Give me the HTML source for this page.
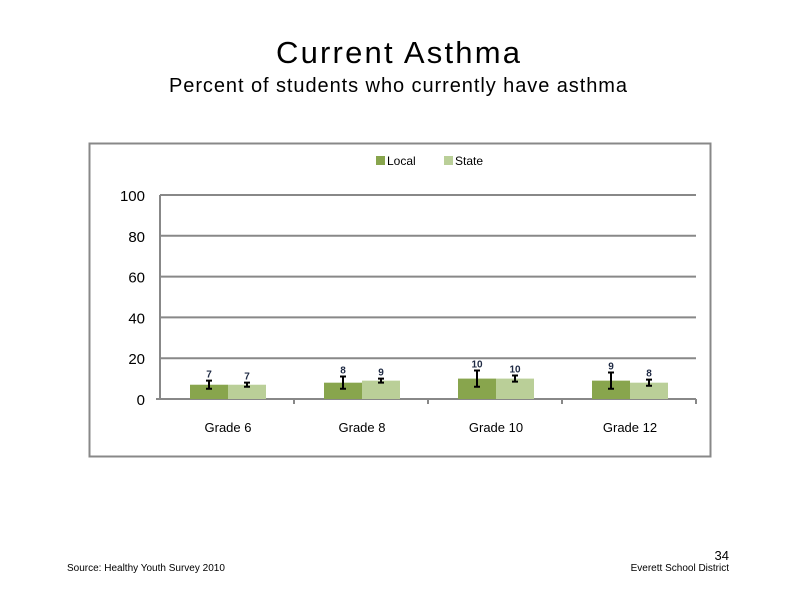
<!DOCTYPE html>
<html><head><meta charset="utf-8"><style>
body{margin:0;width:800px;height:600px;background:#fff;font-family:"Liberation Sans",sans-serif;overflow:hidden}
</style></head><body>
<svg width="800" height="600" font-family="Liberation Sans, sans-serif">
<text x="398" y="63" font-size="31" text-anchor="middle" textLength="244" lengthAdjust="spacing">Current Asthma</text>
<text x="398" y="92" font-size="20" text-anchor="middle" textLength="458" lengthAdjust="spacing">Percent of students who currently have asthma</text>
<rect x="89.5" y="143.5" width="621" height="313" fill="#fff" stroke="#888" stroke-width="2"/>
<g>
<rect x="376" y="156" width="9" height="9" fill="#88a54d"/>
<text x="387" y="165" font-size="12">Local</text>
<rect x="444" y="156" width="9" height="9" fill="#bacf98"/>
<text x="455" y="165" font-size="12">State</text>
</g>
<g id="plot"></g>
<text x="67" y="571" font-size="10">Source: Healthy Youth Survey 2010</text>
<text x="729" y="560" font-size="13" text-anchor="end">34</text>
<text x="729" y="571" font-size="10" text-anchor="end">Everett School District</text>
</svg>
<script>
const categories=["Grade 6","Grade 8","Grade 10","Grade 12"];
const localValues=[7,8,10,9];
const stateValues=[7,9,10,8];
const localErr=[2,3,4,4];
const stateErr=[1,1,1.5,1.5];
const yTicks=[0,20,40,60,80,100];
const NS="http://www.w3.org/2000/svg";
const g=document.getElementById('plot');
const x0=160,x1=696,y0=399,y1=195;
const y=v=>y0-(v/100)*(y0-y1);
const cw=(x1-x0)/categories.length;
function mk(t,a){const e=document.createElementNS(NS,t);for(const k in a)e.setAttribute(k,a[k]);g.appendChild(e);return e;}
yTicks.forEach(t=>{
 if(t>0){const l=mk('line',{x1:x0,x2:x1,y1:y(t),y2:y(t),stroke:'#888','stroke-width':2});
 
 }
 const tx=mk('text',{x:145,y:y(t)+6,'font-size':15,'text-anchor':'end'});tx.textContent=t;
 
 
});
const ya=mk('line',{x1:x0,x2:x0,y1:y1,y2:y0+1,stroke:'#888','stroke-width':2});


const xa=mk('line',{x1:x0-4,x2:x1,y1:y0,y2:y0,stroke:'#888','stroke-width':2});


const bw=38;
categories.forEach((c,i)=>{
 const cx=x0+cw*(i+0.5)+1;
 const tk=mk('line',{x1:x0+cw*(i+1),x2:x0+cw*(i+1),y1:y0,y2:y0+5,stroke:'#888','stroke-width':2});
 
 
 const lb=mk('text',{x:cx,y:432,'font-size':13,'text-anchor':'middle'});lb.textContent=c;
 
 
 [[localValues,localErr,'#88a54d',cx-bw,'local'],[stateValues,stateErr,'#bacf98',cx,'state']].forEach(([vals,errs,col,bx,nm])=>{
  const v=vals[i],e=errs[i];
  const r=mk('rect',{x:bx,y:y(v),width:bw,height:y0-y(v),fill:col});
  
  
  const mx=bx+bw/2;
  const eb=mk('path',{d:`M${mx},${y(v+e)}V${y(v-e)}M${mx-3},${y(v+e)}H${mx+3}M${mx-3},${y(v-e)}H${mx+3}`,stroke:'#000','stroke-width':2,fill:'none'});
  
  
  const t=mk('text',{x:mx,y:Math.min(y(v+e),y(v))-3,'font-size':10,'font-weight':'bold','text-anchor':'middle',fill:'#1f2a44'});t.textContent=v;
  
  
 });
});
</script>
</body></html>
